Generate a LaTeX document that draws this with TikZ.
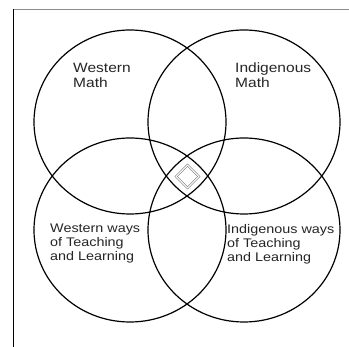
\documentclass[tikz,border=0pt]{standalone}
\usepackage{fontspec}
\newfontfamily\labfont[FakeStretch=1.15]{Liberation Sans}
\usetikzlibrary{shapes.geometric}
\begin{document}
\begin{tikzpicture}[x=1pt,y=-1pt,
  ring/.style={ellipse, draw=black, line width=1.2pt, minimum width=192pt, minimum height=184pt, inner sep=0pt},
  core/.style={diamond, aspect=1, draw=black!55, double=white, double distance=1.2pt, line width=0.5pt, minimum width=23pt, minimum height=23pt, inner sep=0pt},
  biglab/.style={font=\labfont\fontsize{13.5}{15}\selectfont, align=left, anchor=north west, inner sep=0pt, text=black!85},
  smalllab/.style={font=\labfont\fontsize{12.5}{14}\selectfont, align=left, anchor=north west, inner sep=0pt, text=black!85}]
\useasboundingbox (0,0) rectangle (349,347);
\fill[white] (0,0) rectangle (349,347);
\coordinate (corner) at (13,9);
\coordinate (topend) at (349,9);
\coordinate (leftend) at (13,347);
\draw[black!45, line width=0.8pt] (corner) -- (topend);
\draw[black, line width=1pt] (corner) -- (leftend);
\node[ring] (tl) at (130,122) {};
\node[ring] (tr) at (244,122) {};
\node[ring] (bl) at (130,230) {};
\node[ring] (br) at (244,230) {};
\node[core] (mid) at (187.5,176.5) {};
\node[biglab] (wm) at (73,63) {Western\\Math};
\node[biglab] (im) at (235,63) {Indigenous\\Math};
\node[smalllab] (wt) at (50,224) {Western ways\\of Teaching\\and Learning};
\node[smalllab] (it) at (227,224) {Indigenous ways\\of Teaching\\and Learning};
\end{tikzpicture}
\end{document}
